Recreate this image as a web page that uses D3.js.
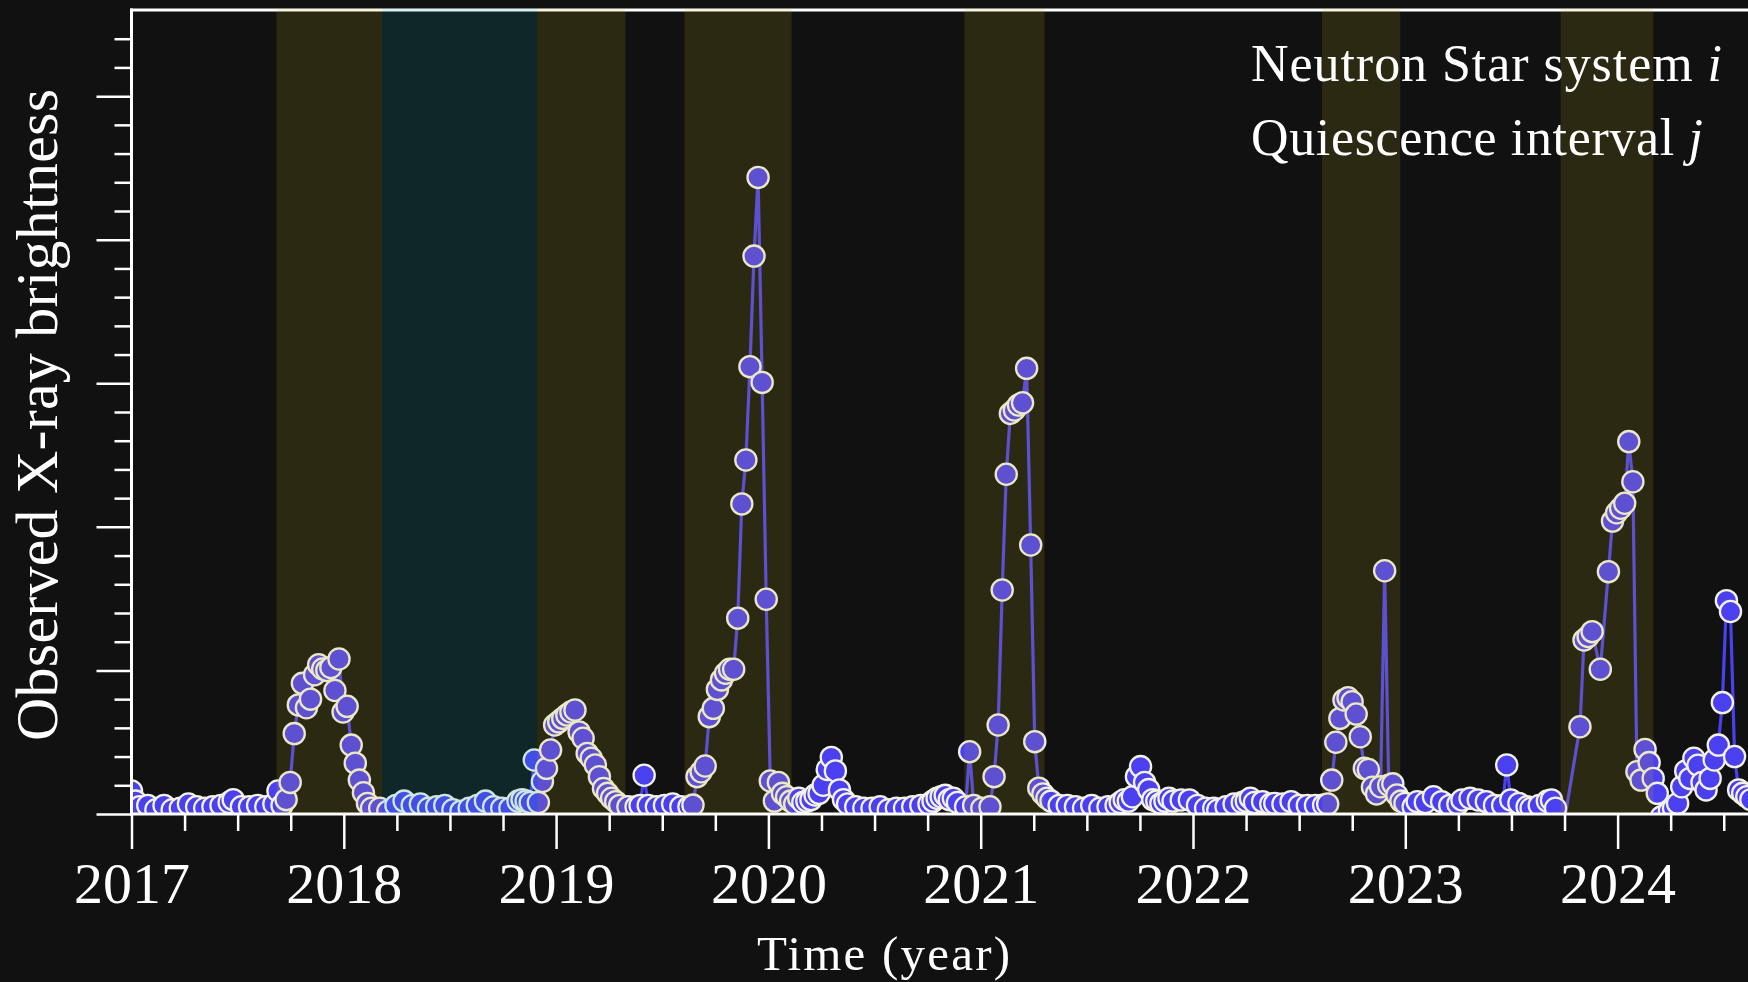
<!DOCTYPE html>
<html><head><meta charset="utf-8">
<script src="https://cdn.jsdelivr.net/npm/d3@7"></script>
<style>
html,body{margin:0;padding:0;background:#111111;overflow:hidden;}
svg{display:block;}
</style>
</head><body>
<svg id="chart" width="1748" height="982"></svg>
<script>
// ---------------- data (weekly grid from 2017.0; null = no observation that week) ----------------
const startYear = 2017;
const weekInYears = 7 / 365.25;

const flux2017 = [0.8,0.45,0.25,null,0.3,null,0.15,null,0.3,null,
  0.15,null,0.2,null,0.35,null,0.25,null,0.2,null,
  0.25,null,0.3,null,0.4,0.5,null,0.25,null,0.25,
  null,0.3,null,0.25,null,0.35,0.8,0.3,0.5,1.1,
  2.8,3.8,4.55,3.7,4.0,4.85,5.2,5.05,5.0,5.1,
  4.3,5.4];
const flux2018 = [3.55,3.75,2.4,1.77,1.18,0.74,0.37,0.2,
  null,0.2,null,0.1,null,0.3,null,0.45,null,0.3,
  null,0.35,null,0.2,null,0.25,null,0.3,null,0.15,
  null,0.1,null,0.2,null,0.3,null,0.45,null,0.25,
  null,0.2,null,0.2,null,0.45,0.5,0.45,0.4,1.88,
  0.4,1.13,1.59,2.23];
const flux2019 = [3.10,3.21,3.33,3.45,3.55,3.62,
  2.86,2.64,2.11,1.94,1.71,1.3,0.89,0.72,0.55,0.43,
  0.3,null,0.25,null,0.25,0.3,1.35,0.3,null,0.25,
  null,0.3,null,0.35,null,0.25,null,0.25,0.31,1.30,
  1.47,1.67,3.39,3.68,4.34,4.67,4.9,5.04,5.04,6.82,
  10.80,12.33,15.58,19.43,22.17,15.03];
const flux2020 = [7.48,1.15,0.45,1.1,
  0.72,0.6,0.45,0.35,0.55,0.4,0.45,0.5,0.66,0.72,
  1.0,1.55,1.97,1.5,0.84,0.5,0.35,null,0.25,null,
  0.2,null,0.2,null,0.25,null,0.15,null,0.2,null,
  0.2,null,0.25,null,0.3,null,0.35,0.45,0.55,0.6,
  0.65,0.5,0.55,0.4,null,0.25,2.17,0.3];
const flux2021 = [null,0.2,
  null,0.25,1.30,3.1,7.80,11.83,13.95,14.07,14.24,14.32,
  15.52,9.37,2.52,0.9,0.7,0.55,0.45,null,0.3,null,
  0.3,null,0.25,null,0.2,null,0.3,null,0.2,null,
  0.25,null,0.3,0.4,0.5,0.45,0.6,1.3,1.65,1.1,
  0.85,0.5,0.45,0.37,0.45,0.55,0.45,null,0.49,null];
const flux2022 = [0.49,null,0.3,null,0.2,null,0.2,0.14,null,0.25,
  null,0.35,null,0.4,0.45,0.55,0.4,null,0.43,null,
  0.35,0.37,null,0.35,null,0.43,null,0.3,null,0.3,
  null,0.3,null,0.31,0.35,1.18,2.5,3.33,3.97,4.05,
  3.91,3.48,2.69,1.59,1.55,0.93,0.7,0.95,8.47,1.0,
  1.05,0.66];
const flux2023 = [0.45,0.37,null,0.25,0.43,null,0.4,null,
  0.6,null,0.43,null,0.3,null,0.35,0.49,null,0.55,
  null,0.49,null,0.43,null,0.3,null,0.3,1.71,0.49,
  null,0.37,null,0.25,0.2,null,0.3,null,0.45,0.49,
  0.2,null,-0.4,null,null,null,3.04,6.06,6.18,6.35,
  null,5.04,null,8.44];
const flux2024 = [10.2,10.49,10.65,10.82,12.97,11.57,
  1.47,1.18,2.25,1.79,1.24,0.72,-0.1,null,0.1,0.2,
  0.37,0.95,1.5,1.24,1.94,1.7,1.1,0.84,1.24,1.88,
  2.4,3.88,7.43,7.05,2.0,0.84,0.72,0.6,0.5];

// shaded intervals (decimal years)
const outburstStart = [2017.683, 2018.911, 2019.605, 2020.923, 2022.608, 2023.732];
const outburstEnd   = [2018.180, 2019.326, 2020.109, 2021.300, 2022.976, 2024.168];
const quiescenceStart = [2018.180];
const quiescenceEnd   = [2018.911];

// ticks / text
const yearTicks = [2017, 2018, 2019, 2020, 2021, 2022, 2023, 2024];
const yTickValues = d3.range(0, 28);
const xTitle = "Time (year)";
const yTitle = "Observed X-ray brightness";
const legendText = ["Neutron Star system ", "Quiescence interval "];
const legendSymbol = ["i", "j"];

// ---------------- drawing ----------------
const flux = [].concat(flux2017, flux2018, flux2019, flux2020, flux2021, flux2022, flux2023, flux2024);
const data = flux.map((v, k) => ({t: startYear + k * weekInYears, v}))
                 .filter(d => d.v !== null);

const svg = d3.select("#chart");
const FONT = "'Liberation Serif','Times New Roman',serif";
const axisCol = "#ffffff";
const ptFill = "#4a40f0";
const ptStroke = "#f3f1e4";

const x = d3.scaleLinear().domain([2017, 2024]).range([131.5, 1617.6]);
const y = d3.scaleLinear().domain([0, 28]).range([814, 10]);
const plotL = x(2017), plotR = 1770, plotT = y(28), plotB = y(0);

svg.append("rect").attr("width", 1748).attr("height", 982).attr("fill", "#111111");

svg.append("defs").append("clipPath").attr("id", "plotclip")
  .append("rect").attr("x", plotL).attr("y", 0).attr("width", plotR - plotL).attr("height", plotB);

const plot = svg.append("g").attr("clip-path", "url(#plotclip)");

const line = d3.line().x(d => x(d.t)).y(d => y(d.v));
plot.append("path").datum(data)
  .attr("d", line).attr("fill", "none")
  .attr("stroke", ptFill).attr("stroke-width", 3.2).attr("stroke-linejoin", "round");

plot.selectAll("circle.pt").data(data).join("circle")
  .attr("class", "pt")
  .attr("cx", d => x(d.t)).attr("cy", d => y(d.v)).attr("r", 10.6)
  .attr("fill", ptFill).attr("stroke", ptStroke).attr("stroke-width", 2.3);

// axes
const yMinor = d3.axisLeft(y).tickValues(yTickValues.filter(v => v % 5 !== 0))
  .tickSize(17).tickSizeOuter(0).tickFormat("");
const yMajor = d3.axisLeft(y).tickValues(yTickValues.filter(v => v % 5 === 0))
  .tickSize(35).tickSizeOuter(0).tickFormat("");
const gy1 = svg.append("g").attr("transform", `translate(${plotL},0)`).call(yMinor);
const gy2 = svg.append("g").attr("transform", `translate(${plotL},0)`).call(yMajor);

const quarterTicks = d3.range(2017, 2024.76, 0.25).filter(t => Math.abs(t - Math.round(t)) > 1e-6);
const xMinor = d3.axisBottom(x).tickValues(quarterTicks).tickSize(17).tickSizeOuter(0).tickFormat("");
const xMajor = d3.axisBottom(x).tickValues(yearTicks).tickSize(35).tickSizeOuter(0).tickFormat(d3.format("d"));
const gx1 = svg.append("g").attr("transform", `translate(0,${plotB})`).call(xMinor);
const gx2 = svg.append("g").attr("transform", `translate(0,${plotB})`).call(xMajor);

[gy1, gy2, gx1, gx2].forEach(g => {
  g.select(".domain").remove();
  g.selectAll(".tick line").attr("stroke", axisCol).attr("stroke-width", 2.5);
});
gx2.selectAll(".tick text")
  .attr("y", 89).attr("dy", 0)
  .attr("fill", axisCol).attr("font-family", FONT).attr("font-size", 58);

// frame lines
svg.append("line").attr("x1", plotL).attr("x2", plotL).attr("y1", plotB + 1.5).attr("y2", plotT - 1.5)
  .attr("stroke", axisCol).attr("stroke-width", 3);
svg.append("line").attr("x1", plotL - 1.5).attr("x2", plotR).attr("y1", plotB).attr("y2", plotB)
  .attr("stroke", axisCol).attr("stroke-width", 3);
svg.append("line").attr("x1", plotL - 1.5).attr("x2", plotR).attr("y1", plotT).attr("y2", plotT)
  .attr("stroke", axisCol).attr("stroke-width", 3);

// shaded bands (translucent, on top)
const bands = svg.append("g");
bands.selectAll("rect.ob").data(d3.zip(outburstStart, outburstEnd)).join("rect")
  .attr("class", "ob")
  .attr("x", d => x(d[0])).attr("width", d => x(d[1]) - x(d[0]))
  .attr("y", plotT - 1.5).attr("height", plotB - plotT + 0.5)
  .attr("fill", "#c8b820").attr("fill-opacity", 0.15);
bands.selectAll("rect.qi").data(d3.zip(quiescenceStart, quiescenceEnd)).join("rect")
  .attr("class", "qi")
  .attr("x", d => x(d[0])).attr("width", d => x(d[1]) - x(d[0]))
  .attr("y", plotT - 1.5).attr("height", plotB - plotT + 0.5)
  .attr("fill", "#10a8b8").attr("fill-opacity", 0.15);

// axis titles
svg.append("text").text(xTitle)
  .attr("x", 883.5).attr("y", 970).attr("text-anchor", "middle")
  .attr("font-family", FONT).attr("font-size", 49).attr("fill", axisCol)
  .attr("textLength", 253).attr("lengthAdjust", "spacing");
svg.append("text").text(yTitle)
  .attr("transform", "translate(57,415) rotate(-90)").attr("text-anchor", "middle")
  .attr("font-family", FONT).attr("font-size", 60).attr("fill", axisCol)
  .attr("textLength", 652).attr("lengthAdjust", "spacing");

// legend text
const legendBase = [81, 155];
const legendLen = [471, 452];
legendText.forEach((s, i) => {
  const t = svg.append("text")
    .attr("x", 1251).attr("y", legendBase[i])
    .attr("font-family", FONT).attr("font-size", 52).attr("fill", axisCol)
    .attr("textLength", legendLen[i]).attr("lengthAdjust", "spacing");
  t.append("tspan").text(s);
  t.append("tspan").attr("font-style", "italic").text(legendSymbol[i]);
});
</script>
</body></html>
